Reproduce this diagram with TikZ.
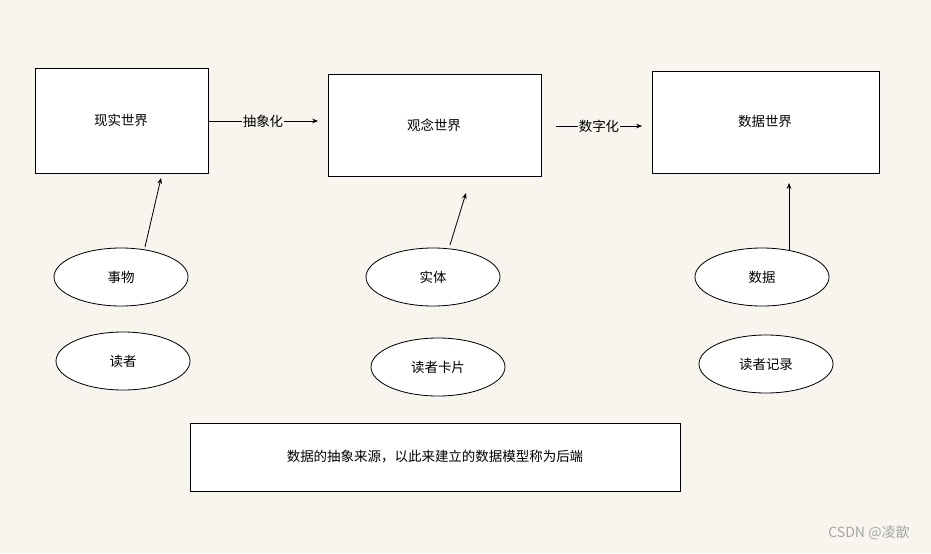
\documentclass[tikz,border=0pt]{standalone}
\usepackage{fontspec}
\setmainfont{Noto Sans CJK SC}
\usetikzlibrary{shapes.geometric,arrows.meta}
\definecolor{bg}{HTML}{F8F5EE}
\begin{document}
\begin{tikzpicture}[x=0.03cm,y=-0.03cm,
  box/.style={draw,fill=white,line width=0.7pt,anchor=north west,inner sep=0},
  ell/.style={draw,fill=white,ellipse,line width=0.7pt,minimum width=134*0.03cm,minimum height=58*0.03cm,font=\fontsize{11.5}{12}\selectfont},
  lbl/.style={font=\fontsize{11.5}{12}\selectfont},
  arr/.style={-{Stealth[length=5pt,width=4pt]},line width=0.7pt}]
\fill[bg] (0,0) rectangle (931,553);
\useasboundingbox (0,0) rectangle (931,553);
\node[box,minimum width=173*0.03cm,minimum height=105*0.03cm] (b1) at (35,68) {};
\node[lbl] at (121,120) {现实世界};
\node[box,minimum width=213*0.03cm,minimum height=102*0.03cm] (b2) at (328,74) {};
\node[lbl] at (434,125) {观念世界};
\node[box,minimum width=227*0.03cm,minimum height=102*0.03cm] (b3) at (652,71) {};
\node[lbl] at (765,121) {数据世界};
\node[box,minimum width=490*0.03cm,minimum height=68*0.03cm] (b4) at (190,423) {};
\node[lbl] at (435,457) {数据的抽象来源，以此来建立的数据模型称为后端};
\node[ell] (e1) at (121,277) {事物};
\node[ell] (e2) at (123,361) {读者};
\node[ell] (e3) at (433,277) {实体};
\node[ell] (e4) at (438,367) {读者卡片};
\node[ell] (e5) at (762,277) {数据};
\node[ell] (e6) at (766,364) {读者记录};
\coordinate (a1) at (208,121); \coordinate (a2) at (318,121);
\coordinate (c1) at (556,126); \coordinate (c2) at (642,126);
\draw[arr] (a1) -- node[lbl,fill=bg,inner sep=1pt]{抽象化} (a2);
\draw[arr] (c1) -- node[lbl,fill=bg,inner sep=1pt]{数字化} (c2);
\coordinate (p1) at (145,247); \coordinate (q1) at (161,178);
\coordinate (p2) at (450,245); \coordinate (q2) at (466,193);
\coordinate (p3) at (789,250); \coordinate (q3) at (789,183);
\draw[arr] (p1) -- (q1);
\draw[arr] (p2) -- (q2);
\draw[arr] (p3) -- (q3);
\node[text=gray!70,font=\fontsize{12}{13}\selectfont] (wm) at (869,533) {CSDN @凌歆};
\end{tikzpicture}
\end{document}
